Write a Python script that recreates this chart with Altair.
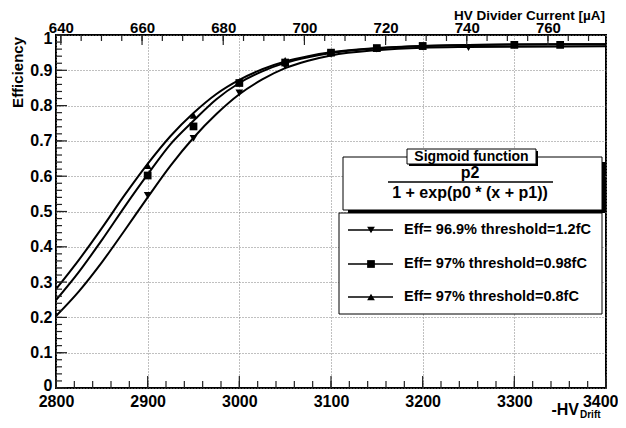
import altair as alt
import pandas as pd

FONT = "Liberation Sans"
W, H = 550, 353

# ---- series ----
series_names = ["Eff= 96.9% threshold=1.2fC", "Eff= 97% threshold=0.98fC", "Eff= 97% threshold=0.8fC"]
series_shapes = ["triangle-down", "square", "triangle-up"]

# fitted sigmoid curves (x = -HV_Drift [V])
curve_x = [2800, 2825, 2850, 2875, 2900, 2925, 2950, 2975, 3000, 3025, 3050, 3075, 3100, 3150, 3200, 3250, 3300, 3400]
curve_12 = [0.204, 0.274, 0.356, 0.447, 0.540, 0.630, 0.709, 0.776, 0.832, 0.874, 0.906, 0.927, 0.942, 0.957, 0.964, 0.966, 0.967, 0.968]
curve_098 = [0.249, 0.329, 0.419, 0.514, 0.605, 0.691, 0.757, 0.818, 0.864, 0.897, 0.921, 0.937, 0.949, 0.962, 0.969, 0.972, 0.973, 0.974]
curve_08 = [0.280, 0.363, 0.453, 0.547, 0.635, 0.714, 0.779, 0.833, 0.873, 0.903, 0.925, 0.940, 0.951, 0.963, 0.969, 0.972, 0.973, 0.974]

# measured points
pts_x_12 = [2900, 2950, 3000, 3050, 3100, 3150, 3200, 3250]
pts_y_12 = [0.546, 0.707, 0.836, 0.912, 0.946, 0.960, 0.966, 0.964]
pts_x_098 = [2900, 2950, 3000, 3050, 3100, 3150, 3200, 3300, 3350]
pts_y_098 = [0.602, 0.741, 0.864, 0.922, 0.950, 0.963, 0.969, 0.972, 0.972]
pts_x_08 = [2900, 2950, 3000, 3050, 3100, 3150, 3200]
pts_y_08 = [0.630, 0.772, 0.868, 0.928, 0.951, 0.963, 0.968]

# axes
x_major = [2800, 2900, 3000, 3100, 3200, 3300, 3400]
x_minor = list(range(2800, 3401, 20))
y_major = [0, 0.1, 0.2, 0.3, 0.4, 0.5, 0.6, 0.7, 0.8, 0.9, 1]
y_minor = [round(i * 0.02, 2) for i in range(51)]
top_major = [640, 660, 680, 700, 720, 740, 760]
top_minor = list(range(640, 775, 5))
top_domain = [638.8, 774.3]

curve_df = pd.DataFrame({
    "V": curve_x * 3,
    "eff": curve_12 + curve_098 + curve_08,
    "series": [n for n in series_names for _ in curve_x],
})
pts_df = pd.concat([
    pd.DataFrame({"V": pts_x_12, "eff": pts_y_12, "series": series_names[0]}),
    pd.DataFrame({"V": pts_x_098, "eff": pts_y_098, "series": series_names[1]}),
    pd.DataFrame({"V": pts_x_08, "eff": pts_y_08, "series": series_names[2]}),
], ignore_index=True)

lab = dict(labelFont=FONT, labelFontWeight="bold", labelColor="black",
           labelFlush=False, labelOverlap=False, title=None, domain=False, tickSize=0)

xs = alt.Scale(domain=[2800, 3400], nice=False, zero=False)
ys = alt.Scale(domain=[0, 1], nice=False, zero=False)
x_axis = alt.Axis(values=x_major, format="d", grid=True, gridDash=[1, 2], gridColor="#808080",
                  labelPadding=5, labelFontSize=16,
                  labelAlign={"condition": {"test": "datum.value == 3400", "value": "right"}, "value": "center"},
                  labelOffset={"condition": {"test": "datum.value == 3400", "value": 12}, "value": 0},
                  **lab)
y_axis = alt.Axis(values=y_major, format=".1~f", grid=True, gridDash=[1, 2], gridColor="#808080",
                  labelPadding=4, labelFontSize=16,
                  labelOffset={"condition": [{"test": "datum.value == 1", "value": 3},
                                             {"test": "datum.value == 0", "value": -3}], "value": 0},
                  **lab)
x_enc = alt.X("V:Q", scale=xs, axis=x_axis)
y_enc = alt.Y("eff:Q", scale=ys, axis=y_axis)

shape_enc = alt.Shape("series:N", scale=alt.Scale(domain=series_names, range=series_shapes), legend=None)

curves = alt.Chart(curve_df).mark_line(interpolate="monotone", color="black", strokeWidth=2).encode(
    x=x_enc, y=y_enc, detail="series:N")
points = alt.Chart(pts_df).mark_point(filled=True, color="black", opacity=1, size=60).encode(
    x=x_enc, y=y_enc, shape=shape_enc)

TICK = "#222222"
def xticks(vals, ln):
    return alt.Chart(pd.DataFrame({"V": vals})).mark_rule(color=TICK, strokeWidth=1.2).encode(
        x=x_enc, y=alt.value(H), y2=alt.value(H - ln))
def yticks(vals, ln):
    return alt.Chart(pd.DataFrame({"eff": vals})).mark_rule(color=TICK, strokeWidth=1.2).encode(
        y=y_enc, x=alt.value(0), x2=alt.value(ln))

one = pd.DataFrame({"a": [0]})
def rect(x1, x2, y1, y2, **kw):
    return alt.Chart(one).mark_rect(**kw).encode(x=alt.value(x1), x2=alt.value(x2), y=alt.value(y1), y2=alt.value(y2))
def text(t, x, y, size, align="center", baseline="middle", angle=0):
    return alt.Chart(one).mark_text(text=t, font=FONT, fontSize=size, fontWeight="bold", color="black",
                                    align=align, baseline=baseline, angle=angle).encode(
        x=alt.value(x), y=alt.value(y))

deco = [
    # formula box
    rect(292, 549, 127, 178, color="black"),
    rect(287, 546, 122, 175, fill="white", stroke="black", strokeWidth=1),
    rect(353, 482, 116, 131, color="black"),
    rect(351, 480, 114, 129, fill="white", stroke="black", strokeWidth=1),
    text("Sigmoid function", 415.5, 121.5, 14),
    text("p2", 414, 138, 16),
    alt.Chart(one).mark_rule(color="black", strokeWidth=1.5).encode(
        x=alt.value(332), x2=alt.value(497), y=alt.value(147)),
    text("1 + exp(p0 * (x + p1))", 414, 158, 16),
    # legend box
    rect(283, 546, 178, 279, fill="white", stroke="black", strokeWidth=1),
]
rows_y = [195, 229, 262]
for name, shp, ry in zip(series_names, series_shapes, rows_y):
    deco.append(alt.Chart(one).mark_rule(color="black", strokeWidth=1.5).encode(
        x=alt.value(292), x2=alt.value(337), y=alt.value(ry)))
    deco.append(alt.Chart(one).mark_point(shape=shp, filled=True, color="black", opacity=1, size=60).encode(
        x=alt.value(315), y=alt.value(ry)))
    deco.append(text(name, 348, ry, 14.5, align="left"))

titles = [
    text("Efficiency", -38, 2, 15, align="right", angle=270),
    text("HV Divider Current [µA]", 549, -15, 13.5, align="right", baseline="alphabetic"),
    text("-HV", 523, 380, 16, align="right", baseline="alphabetic"),
    text("Drift", 524, 382.5, 10, align="left", baseline="alphabetic"),
]

main = alt.layer(
    curves, points,
    xticks(x_major, 12), xticks(x_minor, 7),
    yticks(y_major, 11), yticks(y_minor, 6),
    *deco, *titles,
)

top_axis = alt.Axis(orient="top", values=top_major, format="d", grid=False, labelPadding=0,
                    labelFontSize=15, **lab)
top_enc = alt.X("I:Q", scale=alt.Scale(domain=top_domain, nice=False, zero=False), axis=top_axis)
def tticks(vals, ln):
    return alt.Chart(pd.DataFrame({"I": vals})).mark_rule(color=TICK, strokeWidth=1.2).encode(
        x=top_enc, y=alt.value(0), y2=alt.value(ln))
top = alt.layer(tticks(top_major, 10), tticks(top_minor, 6))

chart = alt.layer(main, top).resolve_scale(x="independent").properties(
    width=W, height=H,
    padding={"left": 48, "top": 27, "right": 12, "bottom": 32},
    autosize=alt.AutoSizeParams(type="none"),
    background="white",
).configure_view(stroke="black", strokeWidth=2)

chart.save("out.html", embed_options={"renderer": "svg", "actions": False})
